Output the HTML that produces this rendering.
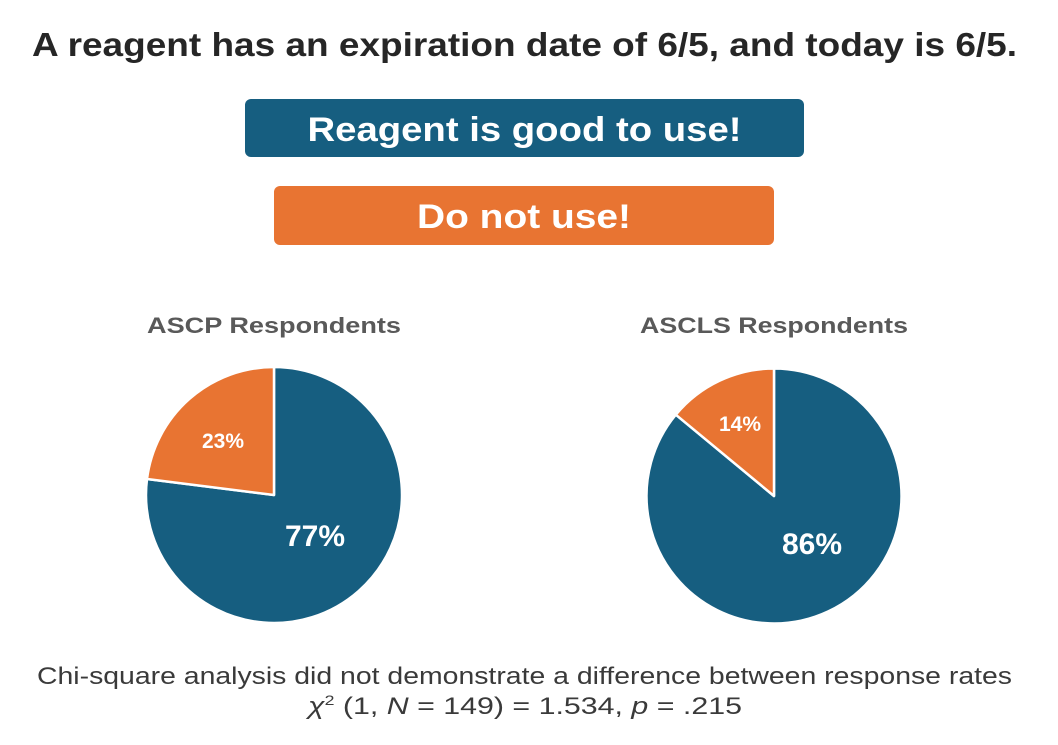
<!DOCTYPE html>
<html><head><meta charset="utf-8"><style>
html,body{margin:0;padding:0;background:#fff;}
svg{display:block;}
text{font-family:"Liberation Sans","DejaVu Sans",sans-serif;}
</style></head><body>
<svg width="1058" height="745" viewBox="0 0 1058 745" xmlns="http://www.w3.org/2000/svg">
<rect width="1058" height="745" fill="#fff"/>
<text x="32" y="56" font-size="33" font-weight="bold" fill="#262626" textLength="985" lengthAdjust="spacingAndGlyphs">A reagent has an expiration date of 6/5, and today is 6/5.</text>
<rect x="245" y="99" width="559" height="58" rx="6" fill="#165e80"/>
<text x="524.5" y="141" font-size="34" font-weight="bold" fill="#fff" text-anchor="middle" textLength="434" lengthAdjust="spacingAndGlyphs">Reagent is good to use!</text>
<rect x="274" y="186" width="500" height="59" rx="6" fill="#e87432"/>
<text x="524" y="228" font-size="34" font-weight="bold" fill="#fff" text-anchor="middle" textLength="214" lengthAdjust="spacingAndGlyphs">Do not use!</text>

<text x="274" y="333" font-size="22" font-weight="bold" fill="#595959" text-anchor="middle" textLength="254" lengthAdjust="spacingAndGlyphs">ASCP Respondents</text>
<text x="774" y="333" font-size="22" font-weight="bold" fill="#595959" text-anchor="middle" textLength="268" lengthAdjust="spacingAndGlyphs">ASCLS Respondents</text>

<g stroke="#fff" stroke-width="2.5" stroke-linejoin="round">
<path d="M274 495 L274 367 A128 128 0 1 1 147 479 Z" fill="#165e80"/>
<path d="M274 495 L147 479 A128 128 0 0 1 274 367 Z" fill="#e87432"/>
<path d="M774 496 L774 368.5 A127.5 127.5 0 1 1 675.8 414.7 Z" fill="#165e80"/>
<path d="M774 496 L675.8 414.7 A127.5 127.5 0 0 1 774 368.5 Z" fill="#e87432"/>
</g>
<text x="223" y="448" font-size="21" font-weight="bold" fill="#fff" text-anchor="middle">23%</text>
<text x="315" y="546" font-size="30" font-weight="bold" fill="#fff" text-anchor="middle">77%</text>
<text x="740" y="431" font-size="21" font-weight="bold" fill="#fff" text-anchor="middle">14%</text>
<text x="812" y="554" font-size="30" font-weight="bold" fill="#fff" text-anchor="middle">86%</text>

<text x="37" y="684" font-size="24" fill="#3a3a3a" textLength="975" lengthAdjust="spacingAndGlyphs">Chi-square analysis did not demonstrate a difference between response rates</text>
<text x="525" y="714" font-size="24" fill="#3a3a3a" text-anchor="middle" textLength="434" lengthAdjust="spacingAndGlyphs"><tspan font-style="italic">χ</tspan><tspan font-size="14" dy="-9">2</tspan><tspan dy="9"> (1, </tspan><tspan font-style="italic">N</tspan> = 149) = 1.534, <tspan font-style="italic">p</tspan> = .215</text>
</svg>
</body></html>
